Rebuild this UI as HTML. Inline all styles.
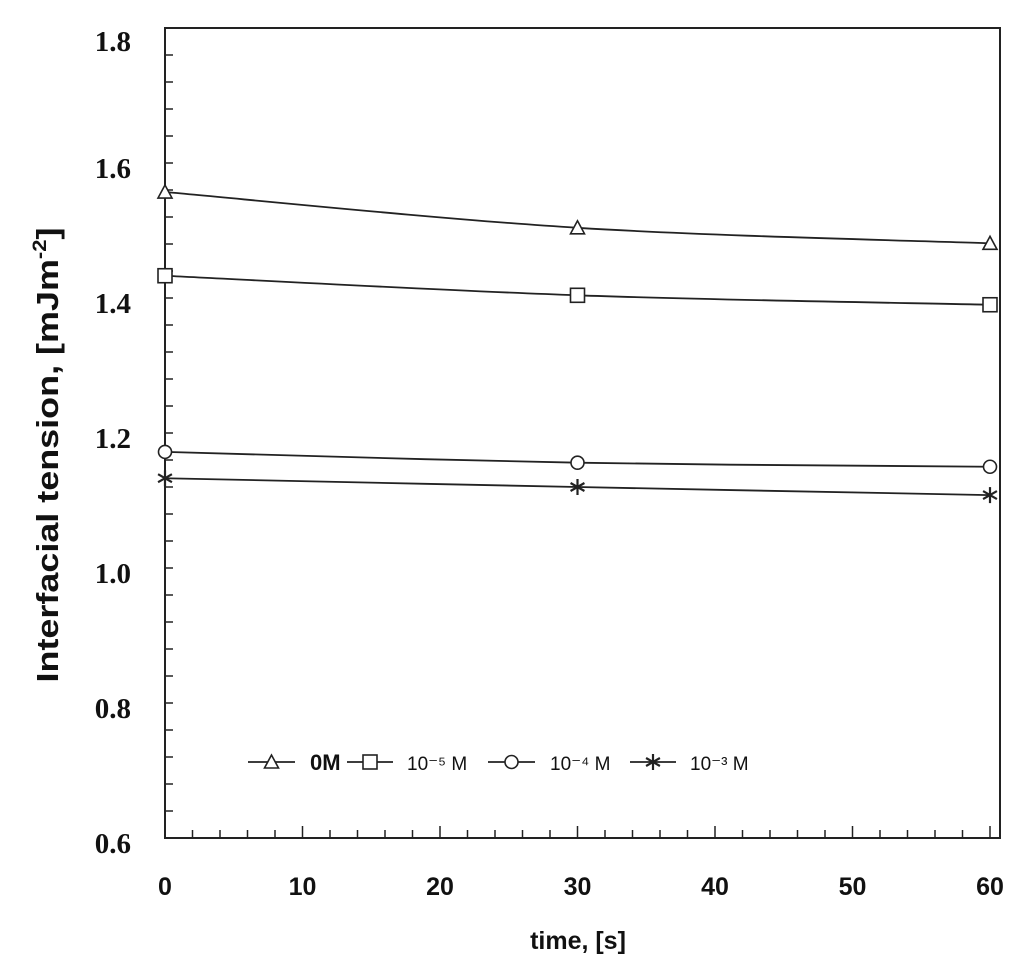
<!DOCTYPE html>
<html><head><meta charset="utf-8"><style>
body{margin:0;background:#fff;}
svg{display:block;}
</style></head><body>
<svg id="chart" width="1024" height="975" xmlns="http://www.w3.org/2000/svg">
<g id="axes"></g>
<g id="series"></g>
<g id="legend"></g>
</svg>
<script>
const xTicks = [0, 10, 20, 30, 40, 50, 60];
const yTicks = [0.6, 0.8, 1.0, 1.2, 1.4, 1.6, 1.8];
const yTickLabels = ["0.6", "0.8", "1.0", "1.2", "1.4", "1.6", "1.8"];
const times = [0, 30, 60];
const s0M = [1.557, 1.504, 1.481];
const s1e5 = [1.433, 1.404, 1.390];
const s1e4 = [1.172, 1.156, 1.150];
const s1e3 = [1.133, 1.120, 1.108];

const NS = "http://www.w3.org/2000/svg";
const L = 165, R = 1000, T = 28, B = 838;
function xs(v){ return 165 + v * 13.75; }
function ys(v){ return B - (v - 0.6) / 1.2 * (B - T); }
function mk(tag, attrs, parent){ const e = document.createElementNS(NS, tag); for (const k in attrs) e.setAttribute(k, attrs[k]); parent.appendChild(e); return e; }

const axes = document.getElementById('axes');
const frame = mk('rect', {x:L, y:T, width:R-L, height:B-T, fill:'none', stroke:'#222', 'stroke-width':2}, axes);


for (let v = 0.6; v <= 1.8001; v += 0.04) {
  const y = ys(v);
  const t = mk('line', {x1:L, x2:L+8, y1:y, y2:y, stroke:'#222', 'stroke-width':1.5}, axes);
  
  
}
yTicks.forEach((v, i) => {
  const t = mk('text', {x:131, y:ys(v) + 15 + (i === 6 ? 8 : 0), 'text-anchor':'end', 'font-family':'Liberation Serif, serif', 'font-weight':'bold', 'font-size':29, fill:'#111'}, axes);
  t.textContent = yTickLabels[i];
  
  
});
for (let v = 0; v <= 60; v += 2) {
  const x = xs(v);
  const major = v % 10 === 0;
  const t = mk('line', {x1:x, x2:x, y1:B, y2:B - (major ? 12 : 8), stroke:'#222', 'stroke-width':1.5}, axes);
  
  
}
xTicks.forEach(v => {
  const t = mk('text', {x:xs(v), y:895, 'text-anchor':'middle', 'font-family':'Liberation Sans, sans-serif', 'font-weight':'bold', 'font-size':25, fill:'#111'}, axes);
  t.textContent = String(v);
  
  
});
const xt = mk('text', {x:578, y:949, 'text-anchor':'middle', 'font-family':'Liberation Sans, sans-serif', 'font-weight':'bold', 'font-size':25, fill:'#111'}, axes);
xt.textContent = 'time, [s]';


const yt = mk('text', {x:0, y:0, 'text-anchor':'middle', 'font-family':'Liberation Sans, sans-serif', 'font-weight':'bold', 'font-size':31, fill:'#111', textLength:455, lengthAdjust:'spacingAndGlyphs', transform:'translate(58,455) rotate(-90)'}, axes);
yt.innerHTML = 'Interfacial tension, [mJm<tspan dy="-12" font-size="19">-2</tspan><tspan dy="12">]</tspan>';



function marker(kind, x, y, parent){
  const g = mk('g', {stroke:'#222', 'stroke-width':1.6, fill:'#fff'}, parent);
  if (kind === 'tri') mk('polygon', {points:`${x},${y-7} ${x-7},${y+6} ${x+7},${y+6}`}, g);
  else if (kind === 'sq') mk('rect', {x:x-7, y:y-7, width:14, height:14}, g);
  else if (kind === 'circ') mk('circle', {cx:x, cy:y, r:6.5}, g);
  else {
    mk('line',{x1:x,y1:y-8,x2:x,y2:y+8,'stroke-width':2.2},g);
    for (const a of [30,150]) { const r = a*Math.PI/180; mk('line', {x1:x-8*Math.cos(r), y1:y-8*Math.sin(r), x2:x+8*Math.cos(r), y2:y+8*Math.sin(r), 'stroke-width':2.2}, g);}
  }
  return g;
}
function smoothPath(pts){
  let d = `M${pts[0][0]},${pts[0][1]}`;
  for (let i = 0; i < pts.length - 1; i++) {
    const p0 = pts[i-1] || pts[i], p1 = pts[i], p2 = pts[i+1], p3 = pts[i+2] || p2;
    const c1 = [p1[0] + (p2[0]-p0[0])/6, p1[1] + (p2[1]-p0[1])/6];
    const c2 = [p2[0] - (p3[0]-p1[0])/6, p2[1] - (p3[1]-p1[1])/6];
    d += ` C${c1[0]},${c1[1]} ${c2[0]},${c2[1]} ${p2[0]},${p2[1]}`;
  }
  return d;
}
const seriesG = document.getElementById('series');
const allSeries = [[s0M,'tri','series-0m'],[s1e5,'sq','series-1e-5m'],[s1e4,'circ','series-1e-4m'],[s1e3,'star','series-1e-3m']];
allSeries.forEach(([vals, kind, name]) => {
  const g = mk('g', {}, seriesG);
  
  
  const pts = times.map((t, i) => [xs(t), ys(vals[i])]);
  const p = mk('path', {d:smoothPath(pts), fill:'none', stroke:'#222', 'stroke-width':1.8}, g);
  
  
  pts.forEach(pt => {
    const m = marker(kind, pt[0], pt[1], g);
    
    
  });
});
const lg = document.getElementById('legend');


const legendItems = [['tri',248,295,310,'0M',true],['sq',347,393,407,'10⁻⁵ M',false],['circ',488,535,550,'10⁻⁴ M',false],['star',630,676,690,'10⁻³ M',false]];
const LY = 762;
legendItems.forEach(([kind,x1,x2,tx,label,bold]) => {
  const g = mk('g', {}, lg);
  
  
  mk('line', {x1:x1, x2:x2, y1:LY, y2:LY, stroke:'#222', 'stroke-width':1.8}, g);
  marker(kind, (x1+x2)/2, LY, g);
  const t = mk('text', {x:tx, y:LY+8, 'font-family':'Liberation Sans, sans-serif', 'font-size':bold?22:19, 'font-weight':bold?'bold':'normal', fill:'#111'}, g);
  t.textContent = label;
});
</script>
</body></html>
